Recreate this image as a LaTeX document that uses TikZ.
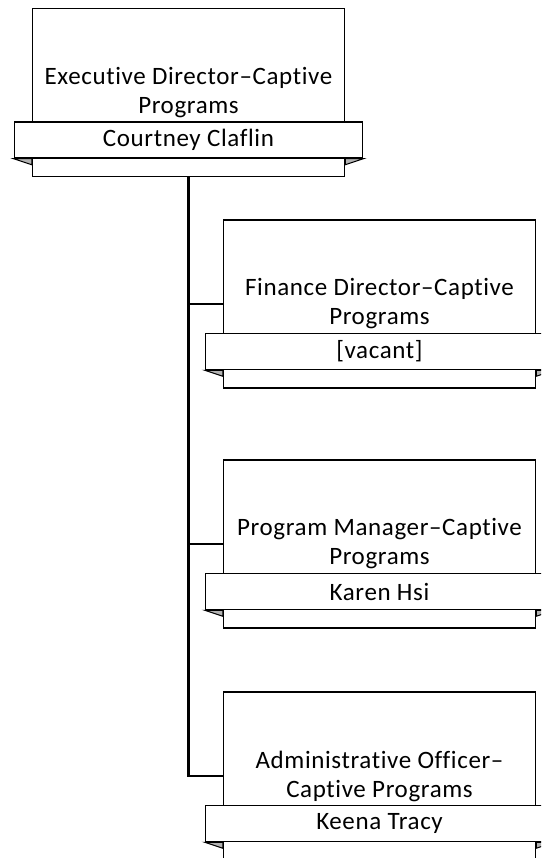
\documentclass[tikz,border=0pt]{standalone}
\usepackage{fontspec}
\setmainfont{Carlito}[LetterSpace=2.5,Ligatures=NoCommon]

\begin{document}
\begin{tikzpicture}[x=1pt,y=-1pt]
  \tikzstyle{post}=[draw,line width=1.5pt,fill=white,minimum width=312pt,minimum height=168pt,align=center,font=\fontsize{25}{29}\selectfont]
  \tikzstyle{holder}=[draw,line width=1.5pt,fill=white,minimum width=348pt,minimum height=36pt,inner sep=0pt,font=\fontsize{25}{29}\selectfont]
  \tikzstyle{fold}=[draw,line width=1pt,fill=black!30]
  \tikzstyle{link}=[draw,line width=2.5pt]
  \clip (0,0) rectangle (541,858);
  \node[post] (E) at (188.5,92.5) {Executive Director--Captive\\Programs};
  \node[post] (F) at (379.5,304)  {Finance Director--Captive\\Programs};
  \node[post] (M) at (379.5,544)  {Program Manager--Captive\\Programs};
  \node[post] (A) at (379.5,776)  {Administrative Officer--\\Captive Programs};
  \node[holder] (En) at ([yshift=-47.5pt]E.center) {Courtney Claflin};
  \node[holder] (Fn) at ([yshift=-47.5pt]F.center) {[vacant]};
  \node[holder] (Mn) at ([yshift=-47.5pt]M.center) {Karen Hsi};
  \node[holder] (An) at ([yshift=-47.5pt]A.center) {Keena Tracy};
  \filldraw[fold] (En.south west) -- (E.west |- En.south) -- ++(0,6) -- cycle;
  \filldraw[fold] (En.south east) -- (E.east |- En.south) -- ++(0,6) -- cycle;
  \filldraw[fold] (Fn.south west) -- (F.west |- Fn.south) -- ++(0,6) -- cycle;
  \filldraw[fold] (Fn.south east) -- (F.east |- Fn.south) -- ++(0,6) -- cycle;
  \filldraw[fold] (Mn.south west) -- (M.west |- Mn.south) -- ++(0,6) -- cycle;
  \filldraw[fold] (Mn.south east) -- (M.east |- Mn.south) -- ++(0,6) -- cycle;
  \filldraw[fold] (An.south west) -- (A.west |- An.south) -- ++(0,6) -- cycle;
  \filldraw[fold] (An.south east) -- (A.east |- An.south) -- ++(0,6) -- cycle;
  \draw[link] (E.south) |- (F.west);
  \draw[link] (E.south) |- (M.west);
  \draw[link] (E.south) |- (A.west);
\end{tikzpicture}
\end{document}
